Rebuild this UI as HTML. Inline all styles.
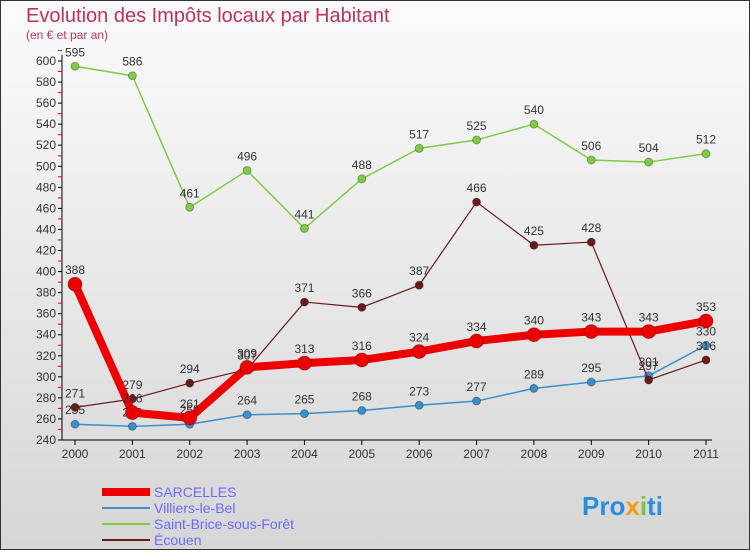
<!DOCTYPE html>
<html><head><meta charset="utf-8"><style>
body{margin:0;background:#fff}
svg text{font-family:"Liberation Sans",sans-serif}
</style></head><body>
<svg width="750" height="550" viewBox="0 0 750 550" xmlns="http://www.w3.org/2000/svg">
<defs><linearGradient id="bg" x1="0" y1="0" x2="0" y2="1"><stop offset="0" stop-color="#fbfbfb"/><stop offset="1" stop-color="#d6d6d6"/></linearGradient></defs>
<rect x="0.5" y="0.5" width="749" height="549" fill="url(#bg)" stroke="#333"/>
<text x="26" y="22" font-size="20" fill="#c0305f">Evolution des Impôts locaux par Habitant</text>
<text x="26" y="39" font-size="12" fill="#c0305f">(en € et par an)</text>
<g id="axes"></g>
<g id="series"></g>
<g id="legend"></g>
<text x="582" y="515" font-size="26" font-weight="bold" fill="#2a8fd8">Pro<tspan fill="#f39c12">x</tspan><tspan fill="#7dc242">i</tspan>ti</text>
</svg>
<script>
const years=[2000,2001,2002,2003,2004,2005,2006,2007,2008,2009,2010,2011];
const sarcelles=[388,266,261,309,313,316,324,334,340,343,343,353];
const villiers=[255,253,255,264,265,268,273,277,289,295,301,330];
const stBrice=[595,586,461,496,441,488,517,525,540,506,504,512];
const ecouen=[271,279,294,307,371,366,387,466,425,428,297,316];
const yTicks=[240,260,280,300,320,340,360,380,400,420,440,460,480,500,520,540,560,580,600];
const NS="http://www.w3.org/2000/svg";
const x0=75,x1=706,yb=440,yt=61,vmin=240,vmax=600;
const X=i=>x0+(x1-x0)*i/(years.length-1);
const Y=v=>yb-(v-vmin)/(vmax-vmin)*(yb-yt);
function mk(t,a,p){const e=document.createElementNS(NS,t);for(const k in a)e.setAttribute(k,a[k]);p.appendChild(e);return e;}
const ax=document.getElementById('axes');
let e=mk('line',{x1:62,y1:55,x2:62,y2:yb,stroke:'#000'},ax);


e=mk('line',{x1:62,y1:yb,x2:712,y2:yb,stroke:'#000'},ax);


yTicks.forEach(v=>{
 mk('line',{x1:58,y1:Y(v),x2:62,y2:Y(v),stroke:'#000'},ax);
 mk('line',{x1:58,y1:Y(v+10),x2:62,y2:Y(v+10),stroke:'#e00'},ax);
 const t=mk('text',{x:56,y:Y(v)+4,'font-size':12,'text-anchor':'end',fill:'#333'},ax);t.textContent=v;
 
 
});
years.forEach((yr,i)=>{
 mk('line',{x1:X(i),y1:yb,x2:X(i),y2:yb+5,stroke:'#000'},ax);
 const t=mk('text',{x:X(i),y:yb+18,'font-size':12,'text-anchor':'middle',fill:'#333'},ax);t.textContent=yr;
 
 
});
const sg=document.getElementById('series');
function draw(data,color,w,r,name){
 const g=mk('g',{},sg);
 
 
 mk('polyline',{points:data.map((v,i)=>X(i)+','+Y(v)).join(' '),fill:'none',stroke:color,'stroke-width':w,'stroke-linejoin':'round'},g);
 data.forEach((v,i)=>{
  const c=mk('circle',{cx:X(i),cy:Y(v),r:r,fill:color,stroke:'rgba(0,0,0,0.3)'},g);
  
  
  const t=mk('text',{x:X(i),y:Y(v)-10,'font-size':12,'text-anchor':'middle',fill:'#333'},g);t.textContent=v;
  
  
 });
}
draw(villiers,'#3a8fcc',1.5,4,'villiers-le-bel');
draw(stBrice,'#7dcc44',1.5,4,'saint-brice');
draw(ecouen,'#6b1a1a',1.2,4,'ecouen');
draw(sarcelles,'#ee0000',8,7,'sarcelles');
const lg=document.getElementById('legend');
[['SARCELLES','#ee0000',8],['Villiers-le-Bel','#3a8fcc',2],['Saint-Brice-sous-Forêt','#7dcc44',2],['Écouen','#6b1a1a',2]].forEach((s,i)=>{
 const y=492+i*16;
 const l=mk('line',{x1:102,y1:y,x2:150,y2:y,stroke:s[1],'stroke-width':s[2]},lg);
 
 
 const t=mk('text',{x:154,y:y+5,'font-size':14,fill:'#6a6aff'},lg);t.textContent=s[0];
 
 
});
</script>
</body></html>
